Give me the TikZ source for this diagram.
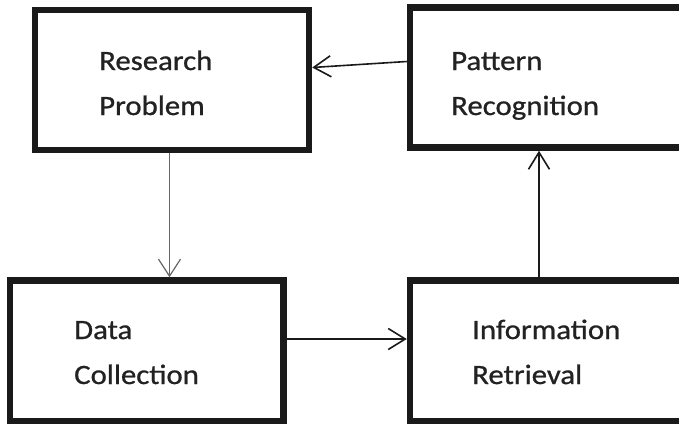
\documentclass[tikz,border=0pt]{standalone}
\usepackage{fontspec}
\setmainfont{Carlito}[FakeStretch=1.1,FakeBold=0.8]
\usetikzlibrary{arrows.meta}
\definecolor{boxline}{HTML}{1A1A1A}
\definecolor{txt}{HTML}{222222}
\tikzset{
  box/.style={draw=boxline, line width=6.5pt, rectangle, inner sep=0pt},
  lbl/.style={anchor=base west, inner sep=0pt, text=txt, font=\fontsize{28}{34}\selectfont},
  conn/.style={draw=boxline, line width=1.6pt, -{Straight Barb[length=17pt,width=21pt,line width=1.6pt]}},
  thin/.style={draw=gray!80!black, line width=0.9pt, -{Straight Barb[length=17pt,width=22pt,line width=1.2pt]}}
}
\begin{document}
\begin{tikzpicture}[x=1pt,y=-1pt]
\path[use as bounding box, clip] (0,0) rectangle (679,424);
\fill[white] (0,0) rectangle (679,424);
% boxes
\node[box, minimum width=274pt, minimum height=140pt] (rp) at (172,80) {};
\node[box, minimum width=280pt, minimum height=140pt] (pr) at (550,77.5) {};
\node[box, minimum width=273.5pt, minimum height=140.5pt] (dc) at (146.75,350.75) {};
\node[box, minimum width=280pt, minimum height=140.5pt] (ir) at (550,350.75) {};
% labels
\node[lbl] (rp1) at (99,70) {Research};
\node[lbl] (rp2) at (99,115) {Problem};
\node[lbl] (pr1) at (451,70) {Pattern};
\node[lbl] (pr2) at (451,115) {Recognition};
\node[lbl] (dc1) at (74,339) {Data};
\node[lbl] (dc2) at (74,384) {Collection};
\node[lbl] (ir1) at (472,339) {Information};
\node[lbl] (ir2) at (472,384) {Retrieval};
% helper coordinates
\coordinate (yPR) at (0,61.5);
\coordinate (yRP) at (0,67.5);
\coordinate (xRD) at (169.5,0);
\coordinate (yDI) at (0,339);
\coordinate (xIP) at (539,0);
% connectors
\draw[conn] (pr.west |- yPR) -- (rp.east |- yRP);
\draw[thin] (rp.south -| xRD) -- (dc.north -| xRD);
\draw[conn] (dc.east |- yDI) -- (ir.west |- yDI);
\draw[conn] (ir.north -| xIP) -- (pr.south -| xIP);
\end{tikzpicture}
\end{document}
